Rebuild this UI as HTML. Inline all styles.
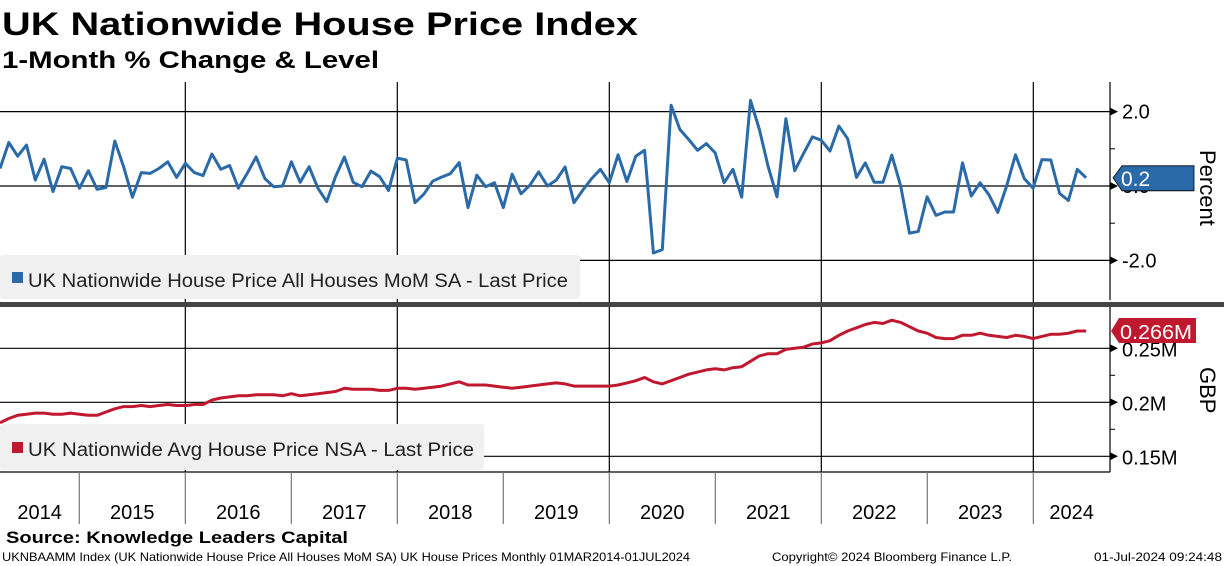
<!DOCTYPE html>
<html><head><meta charset="utf-8"><style>
html,body{margin:0;padding:0;background:#fff;}
svg{display:block;font-family:"Liberation Sans","DejaVu Sans",sans-serif;}
</style></head><body>
<svg id="chart" width="1224" height="566" viewBox="0 0 1224 566">
<text x="2" y="35" font-size="32" font-weight="bold" textLength="636" lengthAdjust="spacingAndGlyphs">UK Nationwide House Price Index</text>
<text x="2" y="68" font-size="24" font-weight="bold" textLength="377" lengthAdjust="spacingAndGlyphs">1-Month % Change &amp; Level</text>
<g id="grid"></g>
<g id="top-legend">
<rect x="0" y="255" width="580" height="44" rx="3" fill="#f0f0f0"/>
<rect x="12" y="272" width="11" height="11" fill="#2a6aa8"/>
<text x="28" y="287" font-size="19" fill="#222" textLength="540" lengthAdjust="spacingAndGlyphs">UK Nationwide House Price All Houses MoM SA - Last Price</text>
</g>
<g id="bot-legend">
<rect x="0" y="424" width="484" height="46" rx="3" fill="#f0f0f0"/>
<rect x="12" y="442" width="11" height="11" fill="#c0182f"/>
<text x="28" y="456" font-size="19" fill="#222" textLength="446" lengthAdjust="spacingAndGlyphs">UK Nationwide Avg House Price NSA - Last Price</text>
</g>
<g id="marks"></g>
<rect x="0" y="302" width="1224" height="5" fill="#444"/>
<text x="6" y="543" font-size="17" font-weight="bold" textLength="342" lengthAdjust="spacingAndGlyphs">Source: Knowledge Leaders Capital</text>
<text x="2" y="561" font-size="12" textLength="688" lengthAdjust="spacingAndGlyphs">UKNBAAMM Index (UK Nationwide House Price All Houses MoM SA) UK House Prices  Monthly 01MAR2014-01JUL2024</text>
<text x="772" y="561" font-size="12" textLength="240" lengthAdjust="spacingAndGlyphs">Copyright© 2024 Bloomberg Finance L.P.</text>
<text x="1094" y="561" font-size="12" textLength="128" lengthAdjust="spacingAndGlyphs">01-Jul-2024 09:24:48</text>
</svg>
<script>
const years=["2014","2015","2016","2017","2018","2019","2020","2021","2022","2023","2024"];
const momTicks=[2.0,0.0,-2.0];
const momTickLabels=["2.0","0.0","-2.0"];
const lvlTicks=[0.25,0.2,0.15];
const lvlTickLabels=["0.25M","0.2M","0.15M"];
const momValues=[0.47,1.17,0.80,1.10,0.16,0.72,-0.15,0.52,0.47,-0.06,0.41,-0.09,-0.04,1.21,0.52,-0.30,0.36,0.34,0.47,0.65,0.23,0.61,0.36,0.28,0.86,0.45,0.55,-0.06,0.34,0.78,0.20,-0.02,0.00,0.65,0.10,0.52,-0.06,-0.42,0.25,0.78,0.10,-0.02,0.40,0.25,-0.12,0.75,0.70,-0.45,-0.22,0.13,0.24,0.33,0.63,-0.58,0.29,-0.02,0.09,-0.58,0.32,-0.21,0.02,0.38,0.00,0.16,0.51,-0.45,-0.11,0.20,0.45,0.09,0.84,0.12,0.80,0.96,-1.80,-1.71,2.17,1.52,1.25,0.96,1.14,0.89,0.09,0.45,-0.30,2.30,1.52,0.52,-0.29,1.81,0.41,0.87,1.32,1.23,0.94,1.61,1.27,0.23,0.62,0.10,0.10,0.83,0.00,-1.27,-1.22,-0.29,-0.79,-0.70,-0.70,0.62,-0.27,0.09,-0.24,-0.71,0.00,0.84,0.20,-0.06,0.71,0.70,-0.20,-0.39,0.45,0.22];
const levelValues=[0.181,0.185,0.188,0.189,0.190,0.190,0.189,0.189,0.190,0.189,0.188,0.188,0.191,0.194,0.196,0.196,0.197,0.196,0.197,0.198,0.197,0.197,0.198,0.198,0.202,0.204,0.205,0.206,0.206,0.207,0.207,0.207,0.206,0.208,0.206,0.207,0.208,0.209,0.210,0.213,0.212,0.212,0.212,0.211,0.211,0.213,0.213,0.212,0.213,0.214,0.215,0.217,0.219,0.216,0.216,0.216,0.215,0.214,0.213,0.214,0.215,0.216,0.217,0.218,0.217,0.215,0.215,0.215,0.215,0.215,0.216,0.218,0.220,0.223,0.219,0.217,0.220,0.223,0.226,0.228,0.230,0.231,0.230,0.232,0.233,0.238,0.243,0.245,0.245,0.249,0.250,0.251,0.254,0.255,0.257,0.262,0.266,0.269,0.272,0.274,0.273,0.276,0.274,0.270,0.266,0.264,0.260,0.259,0.259,0.262,0.262,0.264,0.262,0.261,0.260,0.262,0.261,0.259,0.261,0.263,0.263,0.264,0.266,0.266];
const lastMom="0.2", lastLevel="0.266M";

const NS="http://www.w3.org/2000/svg";
const X0=0, MONTH=8.83; // index 0 = Apr 2014; Jan 2016 at x=185.3
function xOf(i){return X0+i*MONTH;}
function xYear(k){return 185.3+(k-2)*106;} // k = years index, start of year
function yMom(v){return 186-v*37.2;}
function yLvl(v){return 348.3-(v-0.25)*1080;}
const AX=1110;
function el(tag,attrs,parent){const e=document.createElementNS(NS,tag);for(const k in attrs)e.setAttribute(k,attrs[k]);parent.appendChild(e);return e;}
const grid=document.getElementById('grid'), marks=document.getElementById('marks');

// vertical gridlines every 2 years
for(let k=2;k<years.length;k+=2){
  const x=xYear(k);
  const l=el('line',{x1:x,y1:82,x2:x,y2:472,stroke:'#000','stroke-width':1.2},grid);
  
  
}
// horizontal gridlines top
momTicks.forEach((t,i)=>{
  const y=yMom(t);
  const l=el('line',{x1:0,y1:y,x2:AX,y2:y,stroke:'#000','stroke-width':1.2},grid);
  
  
  el('path',{d:`M${AX} ${y-4}L${AX+8} ${y}L${AX} ${y+4}Z`,fill:'#000'},grid);
  const tx=el('text',{x:AX+12,y:y+7,'font-size':20},grid);
  tx.textContent=momTickLabels[i];
  
  
});
[1,-1].forEach(t=>{el('line',{x1:AX,y1:yMom(t),x2:AX+5,y2:yMom(t),stroke:'#000'},grid);});
lvlTicks.forEach((t,i)=>{
  const y=yLvl(t);
  const l=el('line',{x1:0,y1:y,x2:AX,y2:y,stroke:'#000','stroke-width':1.2},grid);
  
  
  el('path',{d:`M${AX} ${y-4}L${AX+8} ${y}L${AX} ${y+4}Z`,fill:'#000'},grid);
  const tx=el('text',{x:AX+12,y:y+8,'font-size':20},grid);
  tx.textContent=lvlTickLabels[i];
  
  
});
[0.225,0.175].forEach(t=>{el('line',{x1:AX,y1:yLvl(t),x2:AX+5,y2:yLvl(t),stroke:'#000'},grid);});
// right axis lines
el('line',{x1:AX,y1:82,x2:AX,y2:300,stroke:'#000','stroke-width':1.2},grid);
el('line',{x1:AX,y1:307,x2:AX,y2:472,stroke:'#000','stroke-width':1.2},grid);
el('line',{x1:0,y1:472,x2:AX,y2:472,stroke:'#000','stroke-width':1.2},grid);
// axis titles
const pt=el('text',{x:0,y:0,'font-size':22,transform:'translate(1200,150) rotate(90)'},grid);
pt.textContent='Percent';


const gt=el('text',{x:0,y:0,'font-size':22,transform:'translate(1200,367) rotate(90)'},grid);
gt.textContent='GBP';


// x axis year dividers and labels
for(let k=1;k<years.length;k++){
  const x=xYear(k);
  el('line',{x1:x,y1:472,x2:x,y2:524,stroke:'#777','stroke-width':1.2},grid);
}
years.forEach((yr,k)=>{
  const a=Math.max(0,xYear(k)), b=Math.min(AX,xYear(k+1));
  const t=el('text',{x:(a+b)/2,y:519,'font-size':20,'text-anchor':'middle'},grid);
  t.textContent=yr;
  
  
});
// series
const mp=el('polyline',{points:momValues.map((v,i)=>xOf(i).toFixed(1)+','+yMom(v).toFixed(1)).join(' '),fill:'none',stroke:'#2a6aa8','stroke-width':3,'stroke-linejoin':'round'},marks);


const lp=el('polyline',{points:levelValues.map((v,i)=>xOf(i).toFixed(1)+','+yLvl(v).toFixed(1)).join(' '),fill:'none',stroke:'#c0182f','stroke-width':3,'stroke-linejoin':'round'},marks);


// last value tags
const ym=yMom(momValues[momValues.length-1]);
const bt=el('path',{d:`M1113 ${ym}L1122 ${ym-12}L1194 ${ym-12}L1194 ${ym+13}L1122 ${ym+13}Z`,fill:'#2a6aa8',stroke:'#000','stroke-width':0.8},marks);


const btt=el('text',{x:1121,y:ym+8,'font-size':21,fill:'#fff'},marks);
btt.textContent=lastMom;


const yl=yLvl(levelValues[levelValues.length-1]);
const rt=el('path',{d:`M1111 ${yl}L1119 ${yl-13}L1196 ${yl-13}L1196 ${yl+12}L1119 ${yl+12}Z`,fill:'#c0182f'},marks);


const rtt=el('text',{x:1120,y:yl+8,'font-size':20,fill:'#fff',textLength:72,lengthAdjust:'spacingAndGlyphs'},marks);
rtt.textContent=lastLevel;


</script>
</body></html>
